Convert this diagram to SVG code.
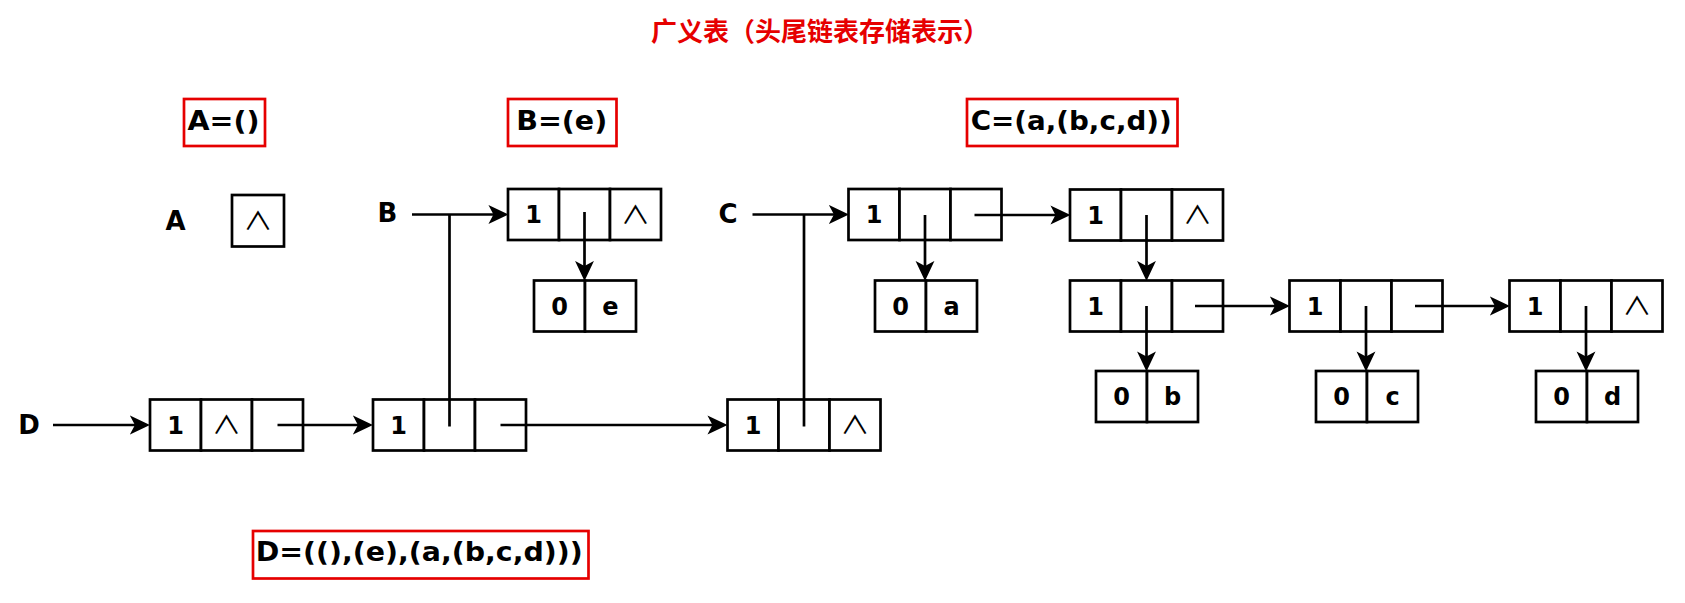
<svg xmlns="http://www.w3.org/2000/svg" width="1685" height="603" viewBox="0 0 1685 603">
<defs>
<style>
.box{fill:#fff;stroke:#000;stroke-width:2.7}
.v{font-family:"DejaVu Sans",Verdana,sans-serif;font-weight:bold;font-size:24px;text-anchor:middle;fill:#000}
.nil{font-family:"Noto Sans CJK SC","DejaVu Sans",sans-serif;font-weight:normal;font-size:32px;text-anchor:middle;fill:#000}
.name{font-family:"DejaVu Sans",Verdana,sans-serif;font-weight:bold;font-size:26px;text-anchor:middle;fill:#000}
.f{font-family:"DejaVu Sans",Verdana,sans-serif;font-weight:bold;font-size:27px;text-anchor:middle;fill:#000}
.fbox{fill:#fff;stroke:#e60000;stroke-width:2.7}
.link{fill:none;stroke:#000;stroke-width:2.7}
.title{font-family:"Noto Sans CJK SC","Noto Sans",sans-serif;font-weight:bold;font-size:26px;text-anchor:middle;fill:#e60000}
</style>
<marker id="arr" markerUnits="userSpaceOnUse" markerWidth="20" markerHeight="20" viewBox="0 0 18 17" refX="14" refY="8.5" orient="auto">
<path d="M0,0 L18,8.5 L0,17 L4.5,8.5 z" fill="#000"/>
</marker>
</defs>
<rect width="1685" height="603" fill="#fff"/>

<text id="title" class="title" x="820" y="41">广义表（头尾链表存储表示）</text>

<g id="formulaA"><rect class="fbox" x="184" y="99" width="81" height="47"/><text class="f" x="223.5" y="130" textLength="72" lengthAdjust="spacingAndGlyphs">A=()</text></g>
<g id="formulaB"><rect class="fbox" x="508" y="99" width="108.5" height="47"/><text class="f" x="561.7" y="130" textLength="91" lengthAdjust="spacingAndGlyphs">B=(e)</text></g>
<g id="formulaC"><rect class="fbox" x="967" y="99" width="210.5" height="47"/><text class="f" x="1071.2" y="130" textLength="201" lengthAdjust="spacingAndGlyphs">C=(a,(b,c,d))</text></g>
<g id="formulaD"><rect class="fbox" x="253" y="531" width="335.5" height="47.5"/><text class="f" x="419.2" y="561" textLength="327" lengthAdjust="spacingAndGlyphs">D=((),(e),(a,(b,c,d)))</text></g>

<g id="labelA"><text class="name" x="175.5" y="230">A</text></g>
<g id="labelB"><text class="name" x="387.5" y="222">B</text></g>
<g id="labelC"><text class="name" x="728" y="222.5">C</text></g>
<g id="labelD"><text class="name" x="29" y="433.5">D</text></g>

<g id="nodeA"><rect class="box" x="232" y="195" width="52" height="51.5"/><text class="nil" transform="translate(258,230) scale(0.92,0.78)">∧</text></g>

<g id="nodeD1">
<rect class="box" x="150" y="399.5" width="51" height="51"/><rect class="box" x="201" y="399.5" width="51" height="51"/><rect class="box" x="252" y="399.5" width="51" height="51"/>
<text class="v" x="175.5" y="433.5">1</text><text class="nil" transform="translate(226.5,434.2) scale(0.92,0.78)">∧</text>
</g>
<g id="nodeD2">
<rect class="box" x="373" y="399.5" width="51" height="51"/><rect class="box" x="424" y="399.5" width="51" height="51"/><rect class="box" x="475" y="399.5" width="51" height="51"/>
<text class="v" x="398.5" y="433.5">1</text>
</g>
<g id="nodeD3">
<rect class="box" x="727.5" y="399.5" width="51" height="51"/><rect class="box" x="778.5" y="399.5" width="51" height="51"/><rect class="box" x="829.5" y="399.5" width="51" height="51"/>
<text class="v" x="753" y="433.5">1</text><text class="nil" transform="translate(855,434.2) scale(0.92,0.78)">∧</text>
</g>

<g id="nodeB1">
<rect class="box" x="508" y="189" width="51" height="51"/><rect class="box" x="559" y="189" width="51" height="51"/><rect class="box" x="610" y="189" width="51" height="51"/>
<text class="v" x="533.5" y="223">1</text><text class="nil" transform="translate(635.5,223.7) scale(0.92,0.78)">∧</text>
</g>
<g id="nodeE">
<rect class="box" x="534" y="280.5" width="51" height="51"/><rect class="box" x="585" y="280.5" width="51" height="51"/>
<text class="v" x="559.5" y="314.5">0</text><text class="v" x="610.5" y="314.5">e</text>
</g>

<g id="nodeC1">
<rect class="box" x="848.5" y="189" width="51" height="51"/><rect class="box" x="899.5" y="189" width="51" height="51"/><rect class="box" x="950.5" y="189" width="51" height="51"/>
<text class="v" x="874" y="223">1</text>
</g>
<g id="nodeA0">
<rect class="box" x="875" y="280.5" width="51" height="51"/><rect class="box" x="926" y="280.5" width="51" height="51"/>
<text class="v" x="900.5" y="314.5">0</text><text class="v" x="951.5" y="314.5">a</text>
</g>
<g id="nodeC2">
<rect class="box" x="1070" y="189.5" width="51" height="51"/><rect class="box" x="1121" y="189.5" width="51" height="51"/><rect class="box" x="1172" y="189.5" width="51" height="51"/>
<text class="v" x="1095.5" y="223.5">1</text><text class="nil" transform="translate(1197.5,224.2) scale(0.92,0.78)">∧</text>
</g>
<g id="nodeC3">
<rect class="box" x="1070" y="280.5" width="51" height="51"/><rect class="box" x="1121" y="280.5" width="51" height="51"/><rect class="box" x="1172" y="280.5" width="51" height="51"/>
<text class="v" x="1095.5" y="314.5">1</text>
</g>
<g id="nodeC4">
<rect class="box" x="1289.5" y="280.5" width="51" height="51"/><rect class="box" x="1340.5" y="280.5" width="51" height="51"/><rect class="box" x="1391.5" y="280.5" width="51" height="51"/>
<text class="v" x="1315" y="314.5">1</text>
</g>
<g id="nodeC5">
<rect class="box" x="1509.5" y="280.5" width="51" height="51"/><rect class="box" x="1560.5" y="280.5" width="51" height="51"/><rect class="box" x="1611.5" y="280.5" width="51" height="51"/>
<text class="v" x="1535" y="314.5">1</text><text class="nil" transform="translate(1637,315.2) scale(0.92,0.78)">∧</text>
</g>
<g id="nodeB0">
<rect class="box" x="1096" y="371" width="51" height="51"/><rect class="box" x="1147" y="371" width="51" height="51"/>
<text class="v" x="1121.5" y="405">0</text><text class="v" x="1172.5" y="405">b</text>
</g>
<g id="nodeC0">
<rect class="box" x="1316" y="371" width="51" height="51"/><rect class="box" x="1367" y="371" width="51" height="51"/>
<text class="v" x="1341.5" y="405">0</text><text class="v" x="1392.5" y="405">c</text>
</g>
<g id="nodeD0">
<rect class="box" x="1536" y="371" width="51" height="51"/><rect class="box" x="1587" y="371" width="51" height="51"/>
<text class="v" x="1561.5" y="405">0</text><text class="v" x="1612.5" y="405">d</text>
</g>

<g id="connectors">
<path class="link" d="M53,425 H145.5" marker-end="url(#arr)"/>
<path class="link" d="M277.5,425 H368.5" marker-end="url(#arr)"/>
<path class="link" d="M500.5,425 H723" marker-end="url(#arr)"/>
<path class="link" d="M449.5,426.5 V214.5"/>
<path class="link" d="M804,426.5 V214.5"/>
<path class="link" d="M412,214.5 H504" marker-end="url(#arr)"/>
<path class="link" d="M584.5,212 V276.5" marker-end="url(#arr)"/>
<path class="link" d="M752.5,214.5 H844.5" marker-end="url(#arr)"/>
<path class="link" d="M925,215 V276.5" marker-end="url(#arr)"/>
<path class="link" d="M974.5,215 H1066" marker-end="url(#arr)"/>
<path class="link" d="M1146.5,215 V276.5" marker-end="url(#arr)"/>
<path class="link" d="M1146.5,306 V367" marker-end="url(#arr)"/>
<path class="link" d="M1195,306 H1285.5" marker-end="url(#arr)"/>
<path class="link" d="M1366,306 V367" marker-end="url(#arr)"/>
<path class="link" d="M1415,306 H1505.5" marker-end="url(#arr)"/>
<path class="link" d="M1586,306 V367" marker-end="url(#arr)"/>
</g>
</svg>
